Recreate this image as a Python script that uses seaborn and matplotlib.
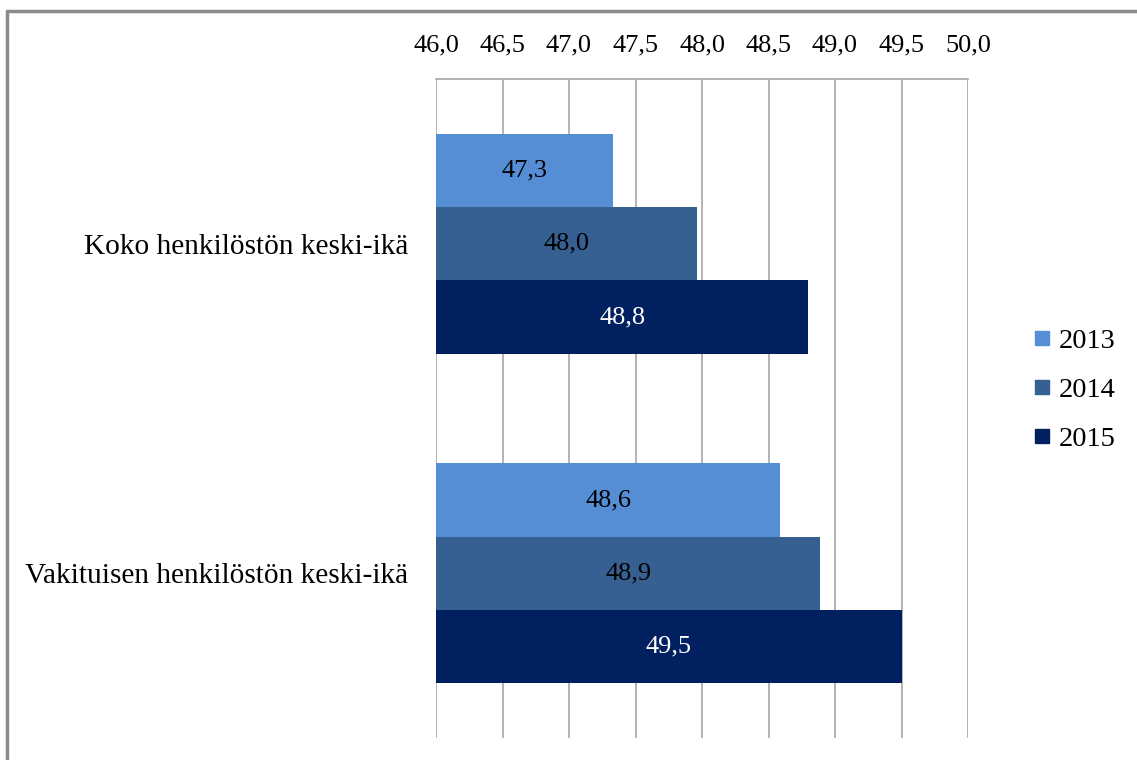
import matplotlib
matplotlib.use("Agg")
import matplotlib.pyplot as plt
import seaborn as sns
import pandas as pd
from matplotlib.lines import Line2D

categories = ["Koko henkilöstön keski-ikä", "Vakituisen henkilöstön keski-ikä"]
years = ["2013", "2014", "2015"]
values_2013 = [47.33, 48.59]
values_2014 = [47.96, 48.89]
values_2015 = [48.80, 49.50]
tick_values = [46.0, 46.5, 47.0, 47.5, 48.0, 48.5, 49.0, 49.5, 50.0]
colors = ["#558ED5", "#376092", "#002060"]
label_colors = ["black", "black", "white"]

rows = []
for yr, vals in zip(years, [values_2013, values_2014, values_2015]):
    for c, v in zip(categories, vals):
        rows.append({"category": c, "year": yr, "value": v})
df = pd.DataFrame(rows)

sns.set_theme(style="white")
plt.rcParams["font.family"] = ["Liberation Serif", "DejaVu Serif"]
plt.rcParams["text.color"] = "black"
plt.rcParams["xtick.color"] = "black"
plt.rcParams["ytick.color"] = "black"

fig = plt.figure(figsize=(11.37, 7.6), dpi=100)
ax = fig.add_axes([436/1137, 1-738/760, (968-436)/1137, (738-79)/760])

sns.barplot(data=df, y="category", x="value", hue="year", order=categories,
            hue_order=years, palette=colors, orient="h", width=0.667,
            ax=ax, legend=False, saturation=1, linewidth=0)

ax.set_xlim(46, 50)
ax.set_ylim(1.5, -0.5)
ax.xaxis.tick_top()
ax.set_xticks(tick_values)
ax.set_xticklabels([f"{t:.1f}".replace(".", ",") for t in tick_values], fontsize=19)
ax.tick_params(axis="x", length=0, pad=16, labelcolor="black")
ax.tick_params(axis="y", length=0, pad=20, labelsize=21.2, labelcolor="black")
ax.set_xlabel("")
ax.set_ylabel("")
ax.grid(axis="x", color="#A6A6A6", linewidth=1.2)
ax.set_axisbelow(True)
for s in ["left", "right", "bottom"]:
    ax.spines[s].set_visible(False)
ax.spines["top"].set_color("#A6A6A6")
ax.spines["top"].set_linewidth(1.2)

for container, lc in zip(ax.containers, label_colors):
    labels = [f"{v:.1f}".replace(".", ",") for v in container.datavalues]
    for bar, lab in zip(container, labels):
        x0 = 46
        x1 = bar.get_x() + bar.get_width()
        yc = bar.get_y() + bar.get_height() / 2
        ax.text((x0 + x1) / 2, yc, lab, ha="center", va="center",
                fontsize=19, color=lc)

handles = [Line2D([], [], marker="s", linestyle="", markersize=10,
                  markerfacecolor=c, markeredgecolor=c) for c in colors]
leg = fig.legend(handles, years, loc="center left", bbox_to_anchor=(1022/1137, 1-390/760),
                 frameon=False, fontsize=20.5, handlelength=0.6, handletextpad=0.3,
                 labelspacing=0.82, borderaxespad=0)
for t in leg.get_texts():
    t.set_color("black")

# outer frame (top and left)
fig.add_artist(Line2D([7/1137, 1], [1-11/760, 1-11/760], color="#8C8C8C",
                      linewidth=2.5, transform=fig.transFigure))
fig.add_artist(Line2D([7/1137, 7/1137], [0, 1-11/760], color="#8C8C8C",
                      linewidth=2.5, transform=fig.transFigure))

fig.savefig("out.png", dpi=100)
